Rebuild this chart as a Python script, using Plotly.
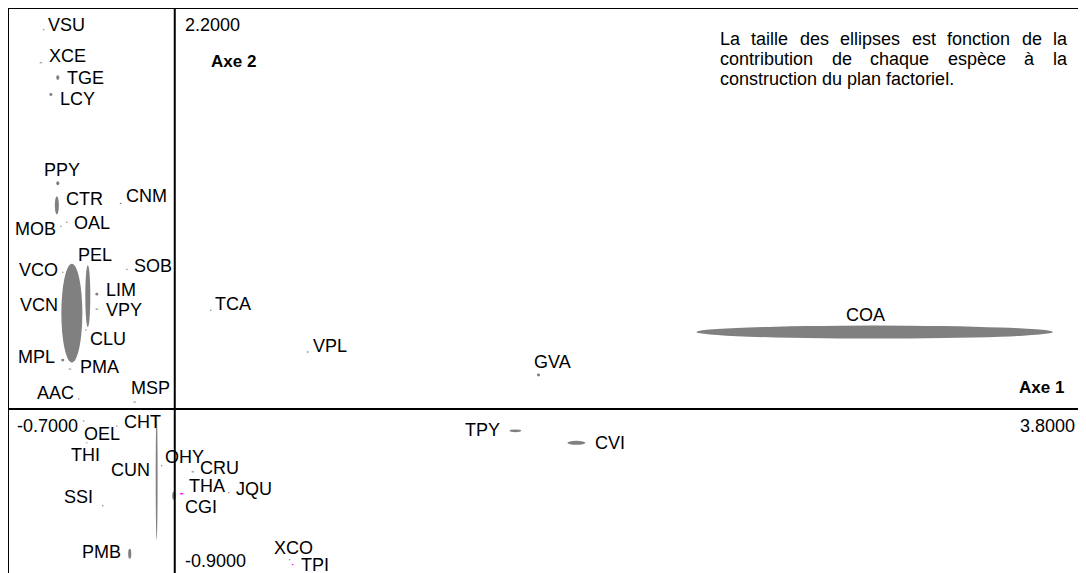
import plotly.graph_objects as go

# espèces et coordonnées sur le plan factoriel (axe 1, axe 2)
species = ["VSU", "XCE", "TGE", "LCY", "PPY", "CTR", "CNM", "OAL", "MOB", "PEL",
           "SOB", "VCO", "VCN", "LIM", "VPY", "CLU", "MPL", "PMA", "AAC", "MSP",
           "OEL", "THI", "CHT", "CUN", "OHY", "SSI", "PMB", "CRU", "THA", "CGI",
           "JQU", "XCO", "TPI", "TCA", "VPL", "GVA", "TPY", "CVI", "COA"]
axe1 = [-0.550, -0.562, -0.491, -0.520, -0.491, -0.495, -0.227, -0.453, -0.478, -0.365,
        -0.201, -0.470, -0.432, -0.327, -0.327, -0.373, -0.470, -0.440, -0.403, -0.168,
        -0.382, -0.369, -0.243, -0.076, -0.055, -0.302, -0.189, 0.076, 0.029, -0.004,
        0.227, 0.482, 0.495, 0.151, 0.558, 1.527, 1.430, 1.686, 2.938]
axe2 = [2.081, 1.900, 1.818, 1.725, 1.238, 1.117, 1.128, 1.024, 1.002, 0.619,
        0.767, 0.750, 0.526, 0.630, 0.548, 0.433, 0.268, 0.219, 0.055, 0.038,
        -0.066, -0.186, -0.093, -0.372, -0.312, -0.531, -0.794, -0.345, -0.465, -0.476,
        -0.460, -0.827, -0.854, 0.542, 0.312, 0.186, -0.120, -0.186, 0.422]
# contributions (étendue de l'ellipse sur chaque axe)
ctr1 = [0.006, 0.013, 0.013, 0.013, 0.013, 0.017, 0.008, 0.006, 0.006, 0.021,
        0.008, 0.006, 0.088, 0.013, 0.013, 0.006, 0.013, 0.013, 0.006, 0.013,
        0.006, 0.006, 0.006, 0.008, 0.006, 0.006, 0.013, 0.013, 0.017, 0.013,
        0.006, 0.006, 0.008, 0.006, 0.008, 0.013, 0.050, 0.076, 1.497]
ctr2 = [0.008, 0.006, 0.027, 0.016, 0.022, 0.099, 0.006, 0.008, 0.008, 0.340,
        0.006, 0.008, 0.542, 0.016, 0.006, 0.008, 0.016, 0.006, 0.008, 0.006,
        0.008, 0.008, 0.008, 0.695, 0.008, 0.008, 0.055, 0.006, 0.008, 0.044,
        0.008, 0.008, 0.008, 0.008, 0.008, 0.016, 0.016, 0.022, 0.071]
special = ["THA", "TPI"]

# placement des étiquettes : ancrage, décalage x (px), décalage y (px)
label_pos = {
    "VSU": ("left", 2, 5), "XCE": ("left", 6, 7), "TGE": ("left", 7, 0),
    "LCY": ("left", 7, -4), "PPY": ("center", 4, 13), "CTR": ("left", 7, 6),
    "CNM": ("left", 3, 7), "OAL": ("left", 5, -1), "MOB": ("right", -3, -3),
    "PEL": ("center", 7, 41), "SOB": ("left", 5, 3), "VCO": ("right", -3, 2),
    "VCN": ("right", -12, 8), "LIM": ("left", 7, 4), "VPY": ("left", 7, -1),
    "CLU": ("left", 2, -9), "MPL": ("right", -6, 3), "PMA": ("left", 8, 2),
    "AAC": ("right", -3, 6), "MSP": ("center", 16, 14), "OEL": ("left", -2, -13),
    "THI": ("center", -1, -12), "CHT": ("left", 5, 4), "CUN": ("right", -5, 7),
    "OHY": ("left", 1, 9), "SSI": ("right", -8, 9), "PMB": ("right", -7, 2),
    "CRU": ("left", 5, 4), "THA": ("left", 5, 8), "CGI": ("left", 9, -11),
    "JQU": ("left", 5, 4), "XCO": ("center", 4, 12), "TPI": ("left", 6, 0),
    "TCA": ("left", 2, 6), "VPL": ("left", 3, 6), "GVA": ("center", 14, 13),
    "TPY": ("right", -13, 1), "CVI": ("left", 17, 0), "COA": ("center", -9, 17),
}

# la page ajoute 8 px de marge autour de la figure
PAGE = 8
W, H = 1078, 565
ML, MR, MT, MB = 0, 6, 0, 0
FONT = "Arial, Liberation Sans"


def px(x, y):
    # pixel de la page -> coordonnées papier
    x0, y1 = PAGE + ML, PAGE + H - MB
    return (x - x0) / (W - ML - MR), (y1 - y) / (H - MT - MB)


fig = go.Figure()

fig.add_trace(go.Scatter(x=axe1, y=axe2, mode="markers", text=species,
                         marker=dict(size=1, color="rgba(0,0,0,0)"),
                         hoverinfo="text", showlegend=False))

shapes = []
for name, x, y, w, h in zip(species, axe1, axe2, ctr1, ctr2):
    color = "#ff00ff" if name in special else "#808080"
    shapes.append(dict(type="circle", xref="x", yref="y",
                       x0=x - w / 2, x1=x + w / 2, y0=y - h / 2, y1=y + h / 2,
                       fillcolor=color, line=dict(width=0), layer="above"))

# cadre (sans bord inférieur) et axes
line = dict(color="black", width=2)
shapes += [
    dict(type="line", xref="paper", yref="paper", x0=0, x1=0, y0=0, y1=1, line=line),
    dict(type="line", xref="paper", yref="paper", x0=0, x1=1, y0=1, y1=1, line=line),
    dict(type="line", xref="paper", yref="paper", x0=1, x1=1, y0=0, y1=1, line=line),
    dict(type="line", xref="x", yref="paper", x0=0, x1=0, y0=0, y1=1, line=line),
    dict(type="line", xref="paper", yref="y", x0=0, x1=1, y0=0, y1=0, line=line),
]

annotations = []
for name, x, y in zip(species, axe1, axe2):
    anchor, dx, dy = label_pos[name]
    annotations.append(dict(x=x, y=y, xref="x", yref="y", text=name,
                            showarrow=False, xanchor=anchor, yanchor="middle",
                            xshift=dx, yshift=dy,
                            font=dict(family=FONT, size=18, color="black")))

# bornes des axes
bounds = [
    ("2.2000", 0, 2.2, "left", "top", 8, -5),
    ("-0.7000", -0.7, 0, "left", "top", 7, -5),
    ("3.8000", 3.8, 0, "right", "top", -3, -5),
    ("-0.9000", 0, -0.9, "left", "bottom", 8, 0),
]
for txt, x, y, xa, ya, dx, dy in bounds:
    annotations.append(dict(x=x, y=y, xref="x", yref="y", text=txt, showarrow=False,
                            xanchor=xa, yanchor=ya, xshift=dx, yshift=dy,
                            font=dict(family=FONT, size=18, color="black")))

for txt, x, y, xa in [("<b>Axe 2</b>", 209, 61, "left"), ("<b>Axe 1</b>", 1066, 387, "right")]:
    ax, ay = px(x, y)
    annotations.append(dict(x=ax, y=ay, xref="paper", yref="paper", text=txt,
                            showarrow=False, xanchor=xa, yanchor="middle",
                            font=dict(family=FONT, size=17, color="black")))

# texte justifié (espaces égaux entre les mots)
note = [
    (39, ["La", "taille", "des", "ellipses", "est", "fonction", "de", "la"],
     [718, 749.4, 797.9, 838.3, 909.7, 945.1, 1019.6, 1051]),
    (59, ["contribution", "de", "chaque", "espèce", "à", "la"],
     [718, 829.6, 868.2, 945.8, 1022.4, 1051]),
    (79, ["construction du plan factoriel."], [718]),
]
for y, words, xs in note:
    for word, x in zip(words, xs):
        ax, ay = px(x, y)
        annotations.append(dict(x=ax, y=ay, xref="paper", yref="paper", text=word,
                                showarrow=False, xanchor="left", yanchor="middle",
                                font=dict(family=FONT, size=18, color="black")))

fig.update_layout(
    width=W, height=H,
    margin=dict(l=ML, r=MR, t=MT, b=MB),
    paper_bgcolor="white", plot_bgcolor="white",
    xaxis=dict(range=[-0.7, 3.8], visible=False, fixedrange=True),
    yaxis=dict(range=[-0.9, 2.2], visible=False, fixedrange=True),
    shapes=shapes, annotations=annotations,
    showlegend=False,
)

fig.write_html("out.html")
